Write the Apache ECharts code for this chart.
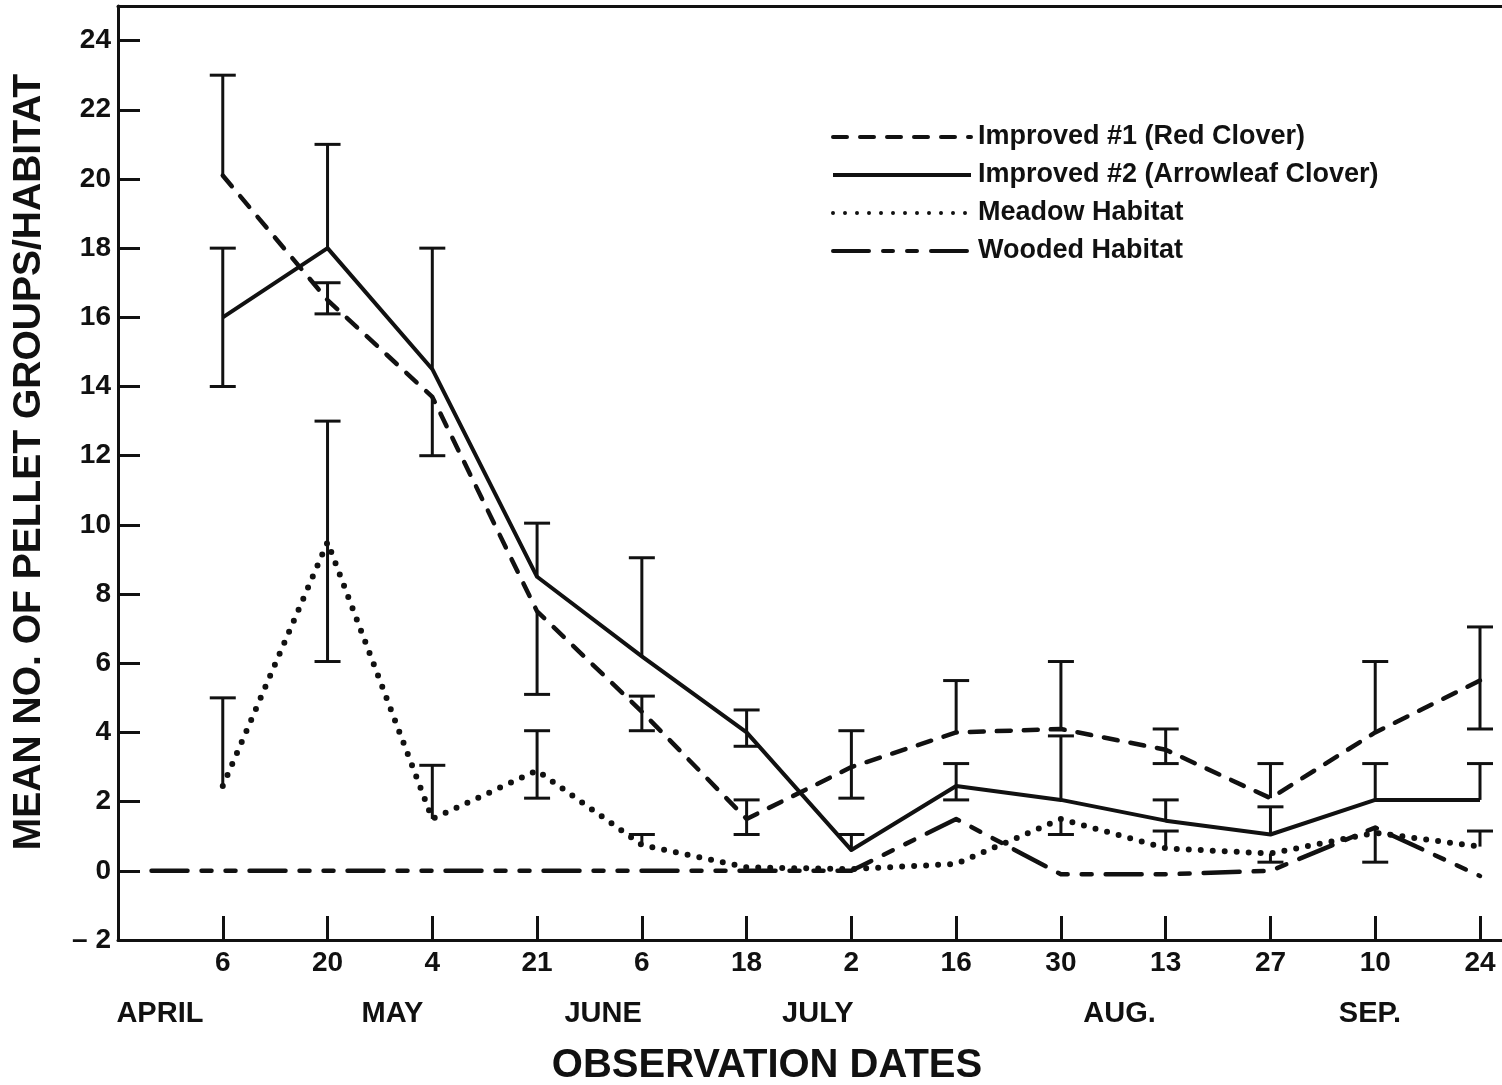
<!DOCTYPE html>
<html><head><meta charset="utf-8">
<script src="https://cdn.jsdelivr.net/npm/echarts@6/dist/echarts.min.js"></script>
<style>html,body{margin:0;padding:0;background:#fff}#c{width:1502px;height:1085px}</style>
</head><body><div id="c"></div>
<script>
// ---- data ----
const dayLabels = ['6','20','4','21','6','18','2','16','30','13','27','10','24'];
const dateIdx = [0,1,2,3,4,5,6,7,8,9,10,11,12];
const monthLabels = ['APRIL','MAY','JUNE','JULY','AUG.','SEP.'];
const monthPos = [-0.60, 1.62, 3.63, 5.68, 8.56, 10.95];
const yTicks = [-2,0,2,4,6,8,10,12,14,16,18,20,22,24];

const seriesNames = ['Improved #1 (Red Clover)','Improved #2 (Arrowleaf Clover)','Meadow Habitat','Wooded Habitat'];

const redMean  = [20.1, 16.5, 13.7, 7.5, 4.6, 1.5, 3.0, 4.0, 4.1, 3.5, 2.1, 4.0, 5.5];
const redLow   = [20.1, 16.1, 12.0, 5.1, 4.05, 1.05, 2.1, 4.0, 4.1, 3.1, 2.1, 4.0, 4.1];
const redHigh  = [23.0, 17.0, 13.7, 7.5, 5.05, 2.05, 4.05, 5.5, 6.05, 4.1, 3.1, 6.05, 7.05];

const arrowMean = [16.0, 18.0, 14.5, 8.5, 6.2, 4.0, 0.6, 2.45, 2.05, 1.45, 1.05, 2.05, 2.05];
const arrowLow  = [14.0, 18.0, 14.5, 8.5, 6.2, 3.6, 0.6, 2.05, 2.05, 1.45, 1.05, 2.05, 2.05];
const arrowHigh = [18.0, 21.0, 18.0, 10.05, 9.05, 4.65, 1.05, 3.1, 3.9, 2.05, 1.85, 3.1, 3.1];

const meadowMean = [2.45, 9.5, 1.5, 2.9, 0.75, 0.1, 0.05, 0.2, 1.5, 0.65, 0.5, 1.1, 0.7];
const meadowLow  = [2.45, 6.05, 1.5, 2.1, 0.75, null, null, null, 1.05, 0.65, 0.25, null, 0.7];
const meadowHigh = [5.0, 13.0, 3.05, 4.05, 1.05, null, null, null, 1.5, 1.15, 0.5, null, 1.15];

const woodedStartX = -0.68;
const woodedMean = [0, 0, 0, 0, 0, 0, 0, 1.5, -0.1, -0.1, 0, 1.25, -0.15];
const woodedLow  = [null, null, null, null, null, null, null, null, null, null, null, 0.25, null];
const woodedHigh = [null, null, null, null, null, null, null, null, null, null, null, 1.25, null];

// ---- build ----
const INK = '#111';
const FONT = '"Liberation Sans", Arial, sans-serif';
const X_MIN = -1, X_MAX = 12.21;

function pts(means){ return dateIdx.map((x,i)=>[x, means[i]]); }
function errPts(lo, hi, m){
  const out = [];
  dateIdx.forEach((x,i)=>{ if (lo[i] !== null && hi[i] !== null) out.push([x, lo[i], hi[i], m[i]]); });
  return out;
}
function errRender(params, api){
  const x = api.value(0), lo = api.value(1), hi = api.value(2), m = api.value(3);
  const a = api.coord([x, lo]), b = api.coord([x, hi]);
  const half = 13;
  const st = {stroke: INK, lineWidth: 3};
  const ch = [{type:'line', shape:{x1:a[0], y1:a[1], x2:b[0], y2:b[1]}, style: st}];
  if (Math.abs(hi - m) > 1e-9) ch.push({type:'line', shape:{x1:b[0]-half, y1:b[1], x2:b[0]+half, y2:b[1]}, style: st});
  if (Math.abs(lo - m) > 1e-9) ch.push({type:'line', shape:{x1:a[0]-half, y1:a[1], x2:a[0]+half, y2:a[1]}, style: st});
  return {type:'group', children: ch};
}
function lineSeries(name, data, lineStyle){
  return {type:'line', name, data, symbol:'none', showSymbol:false, z:3, silent:true, animation:false,
    lineStyle: Object.assign({color: INK, width: 4, cap:'round', join:'round'}, lineStyle), itemStyle:{color: INK}};
}
function errSeries(data){
  return {type:'custom', data, renderItem: errRender, z:4, silent:true, animation:false,
    encode:{x:0, y:[1,2]}};
}

const woodedData = [[woodedStartX, 0]].concat(pts(woodedMean));

const option = {
  backgroundColor: '#fff',
  animation: false,
  grid: {left: 118, right: 0, top: 6, bottom: 145, containLabel: false},
  xAxis: [
    {type:'value', min:X_MIN, max:X_MAX, position:'bottom',
      axisLine:{show:true, onZero:false, lineStyle:{color:INK, width:3}},
      axisTick:{show:true, inside:true, length:24, lineStyle:{color:INK, width:3}, customValues: dateIdx},
      axisLabel:{show:true, customValues: dateIdx, margin:9, color:INK,
        fontFamily: FONT, fontWeight:'bold', fontSize:28,
        formatter: v => { const i = dateIdx.indexOf(Math.round(v)); return i >= 0 ? dayLabels[i] : ''; }},
      splitLine:{show:false}},
    {type:'value', min:X_MIN, max:X_MAX, position:'top',
      axisLine:{show:true, onZero:false, lineStyle:{color:INK, width:3}},
      axisTick:{show:false}, axisLabel:{show:false}, splitLine:{show:false}},
    {type:'value', min:X_MIN, max:X_MAX, position:'bottom',
      axisLine:{show:false}, axisTick:{show:false}, splitLine:{show:false},
      axisLabel:{show:true, customValues: monthPos, margin:59, color:INK,
        fontFamily: FONT, fontWeight:'bold', fontSize:29,
        formatter: v => { let best = 0; monthPos.forEach((p,i)=>{ if (Math.abs(p-v) < Math.abs(monthPos[best]-v)) best = i; }); return monthLabels[best]; }}}
  ],
  yAxis: {type:'value', min:-2, max:25, interval:2,
    axisLine:{show:true, onZero:false, lineStyle:{color:INK, width:3}},
    axisTick:{show:true, inside:true, length:22, lineStyle:{color:INK, width:3}, customValues: yTicks},
    axisLabel:{show:true, customValues: yTicks, margin:7, color:INK,
      fontFamily: FONT, fontWeight:'bold', fontSize:28,
      formatter: v => v < 0 ? '\u2013 ' + Math.abs(v) : String(v)},
    splitLine:{show:false}},
  legend: {
    orient:'vertical', left: 826, top: 117, itemWidth: 138, itemHeight: 16, itemGap: 8,
    data: seriesNames, selectedMode: false,
    itemStyle: {opacity: 0},
    lineStyle: {width: 4},
    textStyle: {color: INK, fontFamily: FONT, fontWeight:'bold', fontSize: 27, lineHeight: 30, padding:[0,0,0,2]}
  },
  graphic: [
    {type:'text', x: 29, y: 462, rotation: Math.PI/2,
      style:{text:'MEAN NO. OF PELLET GROUPS/HABITAT', fill: INK, font: 'bold 39px ' + FONT, textAlign:'center', textVerticalAlign:'middle'}},
    {type:'text', x: 767, y: 1066,
      style:{text:'OBSERVATION DATES', fill: INK, font: 'bold 40px ' + FONT, textAlign:'center', textVerticalAlign:'middle'}}
  ],
  series: [
    lineSeries(seriesNames[0], pts(redMean), {type:[14,13], width:4.5}),
    lineSeries(seriesNames[1], pts(arrowMean), {type:'solid', cap:'butt'}),
    lineSeries(seriesNames[2], pts(meadowMean), {type:[0,12], width:6}),
    lineSeries(seriesNames[3], woodedData, {type:[36,14,10,14,10,14], width:4.5}),
    errSeries(errPts(redLow, redHigh, redMean)),
    errSeries(errPts(arrowLow, arrowHigh, arrowMean)),
    errSeries(errPts(meadowLow, meadowHigh, meadowMean)),
    errSeries(errPts(woodedLow, woodedHigh, woodedMean))
  ]
};
const chart = echarts.init(document.getElementById('c'), null, {renderer:'canvas'});
chart.setOption(option);
</script></body></html>
